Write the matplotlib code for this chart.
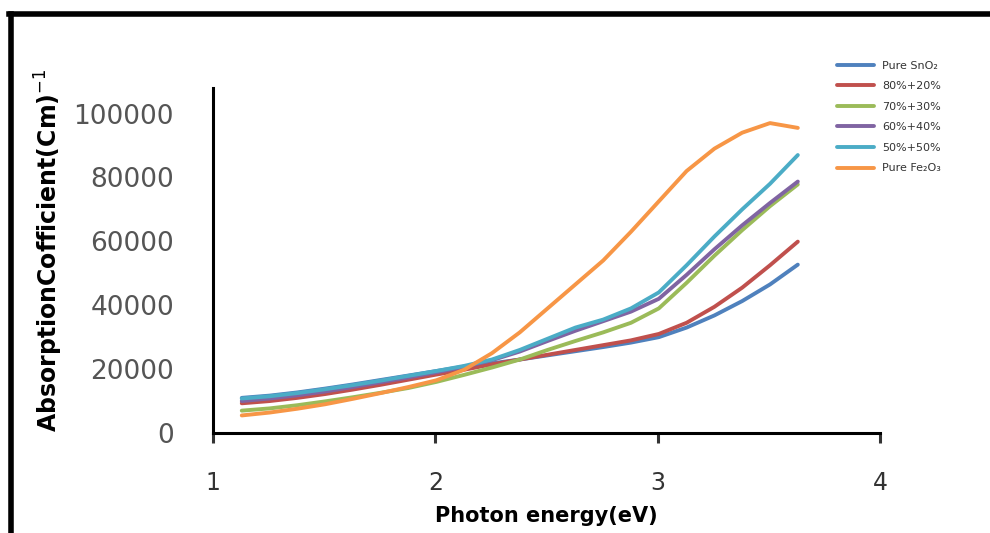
import numpy as np
import matplotlib.pyplot as plt
from matplotlib.lines import Line2D

# energia del fotone (eV)
energia = [1.13, 1.255, 1.38, 1.505, 1.63, 1.755, 1.88, 2.005, 2.13, 2.255, 2.38,
           2.505, 2.63, 2.755, 2.88, 3.005, 3.13, 3.255, 3.38, 3.505, 3.63]

pure_sno2 = [11000, 11700, 12700, 13900, 15200, 16600, 18000, 19400, 20800, 21800, 23000,
             24300, 25600, 26900, 28300, 30000, 33000, 36800, 41300, 46500, 52700]
mix_80_20 = [9300, 10000, 11000, 12200, 13600, 15100, 16700, 18300, 19800, 21500, 23000,
             24500, 26000, 27500, 29000, 31000, 34500, 39500, 45500, 52500, 59900]
mix_70_30 = [7000, 7700, 8700, 9900, 11200, 12600, 14100, 16000, 18200, 20500, 23000,
             26000, 28800, 31500, 34500, 39000, 47000, 55500, 63500, 71000, 77800]
mix_60_40 = [10000, 10800, 11800, 13000, 14400, 15900, 17400, 19000, 20700, 22800, 25500,
             28800, 32000, 35000, 38000, 42000, 49500, 57500, 65000, 72000, 78700]
mix_50_50 = [10800, 11500, 12500, 13700, 15000, 16400, 17900, 19400, 21000, 23000, 26000,
             29500, 33000, 35500, 39000, 44000, 52500, 61500, 70000, 78000, 87000]
pure_fe2o3 = [5500, 6400, 7600, 9000, 10700, 12500, 14400, 16500, 19800, 25000, 31500,
              39000, 46500, 54000, 63000, 72500, 82000, 89000, 94000, 97000, 95500]

etichette = ['Pure SnO₂', '80%+20%', '70%+30%', '60%+40%', '50%+50%', 'Pure Fe₂O₃']
colori = ['#4F81BD', '#C0504D', '#9BBB59', '#8064A2', '#4BACC6', '#F79646']

fig = plt.figure(figsize=(9.9, 5.33), dpi=100)
ax = fig.add_axes([0.215, 0.1876, 0.674, 0.6474])

serie = [pure_sno2, mix_80_20, mix_70_30, mix_60_40, mix_50_50, pure_fe2o3]
for y, lab, c in zip(serie, etichette, colori):
	ax.plot(energia, y, color=c, lw=2.8, label=lab, solid_capstyle='round', solid_joinstyle='round')

ax.set_xlim(1, 4)
ax.set_ylim(0, 108000)
ax.set_xticks([1, 2, 3, 4])
ax.set_yticks([0, 20000, 40000, 60000, 80000, 100000])
ax.set_yticklabels(['0', '20000', '40000', '60000', '80000', '100000'])

for s in ['top', 'right']:
	ax.spines[s].set_visible(False)
for s in ['left', 'bottom']:
	ax.spines[s].set_linewidth(2.2)
	ax.spines[s].set_color('black')

ax.tick_params(axis='x', direction='out', length=7, width=2.2, pad=20, labelsize=17, colors='#333333')
ax.tick_params(axis='y', length=0, pad=28, labelsize=19, colors='#555555')

ax.set_xlabel('Photon energy(eV)', fontsize=15, fontweight='bold', labelpad=8)
ax.set_ylabel('AbsorptionCofficient(Cm)$^{-1}$', fontsize=17, fontweight='bold')
ax.yaxis.set_label_coords(-0.222, 0.53)

ax.legend(loc='upper left', bbox_to_anchor=(0.835, 0.905), bbox_transform=fig.transFigure,
          frameon=False, fontsize=8, handlelength=3.4, labelspacing=0.95, handletextpad=0.7,
          labelcolor='#333333')

# cornice nera sinistra e superiore
fig.add_artist(Line2D([0.011, 0.011], [0.0, 0.973], color='black', lw=4, transform=fig.transFigure))
fig.add_artist(Line2D([0.009, 1.0], [0.973, 0.973], color='black', lw=4, transform=fig.transFigure))

fig.savefig('out.png', dpi=100)
